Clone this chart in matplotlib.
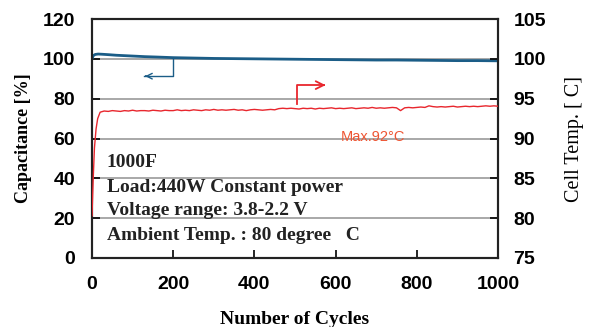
import matplotlib
matplotlib.use("Agg")
import matplotlib.pyplot as plt

# Capacitance retention [%] (left axis)
cap_cycles = [0, 3, 8, 15, 25, 40, 60, 80, 100, 130, 160, 200, 250, 300, 350, 400,
              450, 500, 550, 600, 650, 700, 750, 800, 850, 900, 950, 1000]
cap_values = [100.0, 101.6, 102.2, 102.4, 102.3, 102.1, 101.8, 101.6, 101.4, 101.1, 100.9,
              100.6, 100.4, 100.2, 100.1, 100.0, 99.9, 99.8, 99.7, 99.6, 99.5, 99.4,
              99.4, 99.3, 99.2, 99.1, 99.1, 99.0]

# Cell temperature [C] (right axis), read every ~10 cycles
temp_cycles = [0, 3, 6, 10, 14, 20] + list(range(30, 1001, 10))
temp_values = [80.3, 85.0, 88.8, 91.2, 92.5, 93.3,
               93.45, 93.4, 93.5, 93.45, 93.4, 93.5, 93.45, 93.55, 93.45, 93.5,
               93.5, 93.45, 93.55, 93.5, 93.45, 93.55, 93.5, 93.5, 93.6, 93.5,
               93.55, 93.5, 93.6, 93.55, 93.5, 93.6, 93.55, 93.65, 93.55, 93.6,
               93.55, 93.6, 93.65, 93.55, 93.6, 93.5, 93.6, 93.65, 93.6, 93.55,
               93.6, 93.65, 93.6, 93.75, 93.8, 93.75, 93.8, 93.75, 93.7, 93.8,
               93.75, 93.8, 93.7, 93.8, 93.75, 93.8, 93.85, 93.75, 93.8, 93.75,
               93.8, 93.85, 93.75, 93.8, 93.85, 93.8, 93.9, 93.8, 93.85, 93.8,
               93.85, 93.9, 93.85, 93.5, 93.85, 93.9, 93.85, 93.9, 93.95, 93.9,
               94.1, 94.0, 93.95, 94.0, 93.95, 94.0, 94.05, 93.95, 94.0, 94.05,
               94.0, 94.05, 94.0, 94.05, 94.1, 94.05, 94.1, 94.05]

x_ticks = [0, 200, 400, 600, 800, 1000]
left_ticks = [0, 20, 40, 60, 80, 100, 120]
right_ticks = [75, 80, 85, 90, 95, 100, 105]

notes = ["1000F", "Load:440W Constant power", "Voltage range: 3.8-2.2 V",
         "Ambient Temp. : 80 degree   C"]
note_y = [48, 35.5, 23.8, 11.2]

blue = "#1b5d87"
red = "#e8262d"
sans = "Liberation Sans"
serif = "Liberation Serif"

fig = plt.figure(figsize=(5.9, 3.27), dpi=100)
ax = fig.add_axes([92 / 590, 1 - 258 / 327, 406 / 590, 239 / 327])
ax2 = ax.twinx()

#Gridlines on the left scale
for g in [20, 40, 60, 80, 100]:
    ax.axhline(g, color="#9a9a9a", lw=1.2, zorder=1)

ax.plot(cap_cycles, cap_values, color=blue, lw=2.0, zorder=3)
ax2.plot(temp_cycles, temp_values, color=red, lw=1.0, zorder=3)

ax.set_xlim(0, 1000)
ax.set_ylim(0, 120)
ax2.set_ylim(75, 105)

ax.set_xticks(x_ticks)
ax.set_yticks(left_ticks)
ax2.set_yticks(right_ticks)
ax.set_xticklabels([str(t) for t in x_ticks], fontfamily=sans, fontweight="bold", fontsize=14)
ax.set_yticklabels([str(t) for t in left_ticks], fontfamily=sans, fontweight="bold", fontsize=14)
ax2.set_yticklabels([str(t) for t in right_ticks], fontfamily=sans, fontweight="bold", fontsize=14)
ax.tick_params(axis="x", direction="in", length=6, width=1.2, pad=13, top=False)
ax.tick_params(axis="y", direction="in", length=6, width=1.2, pad=12)
ax2.tick_params(axis="y", direction="in", length=6, width=1.2, pad=11)

for a in (ax, ax2):
    for sp in a.spines.values():
        sp.set_linewidth(1.5)
        sp.set_color("#222222")

ax.set_xlabel("Number of Cycles", fontfamily=serif, fontweight="bold", fontsize=14, labelpad=13)
ax.set_ylabel("Capacitance [%]", fontfamily=serif, fontweight="bold", fontsize=13, labelpad=8)
ax2.set_ylabel("Cell Temp. [ C]", fontfamily=serif, fontsize=14.5, labelpad=14, rotation=90)

#Arrows pointing to each axis
ax.plot([199, 199, 128], [100.4, 91.3, 91.3], color=blue, lw=1.0, zorder=2)
ax.annotate("", xy=(124, 91.3), xytext=(140, 91.3),
            arrowprops=dict(arrowstyle="->", color=blue, lw=1.0))
ax.plot([504, 504, 572], [77.2, 86.8, 86.8], color=red, lw=1.3, zorder=2)
ax.annotate("", xy=(582, 86.8), xytext=(560, 86.8),
            arrowprops=dict(arrowstyle="->", color=red, lw=1.3, mutation_scale=14))

ax.text(613, 61, "Max.92\u00b0C", color="#ee5533", fontfamily=sans, fontsize=10.5,
        va="center", ha="left")

for s, y in zip(notes, note_y):
    ax.text(36, y, s, fontfamily=serif, fontweight="bold", fontsize=14,
            va="center", ha="left", color="#222222")

fig.savefig("out.png", dpi=100)
